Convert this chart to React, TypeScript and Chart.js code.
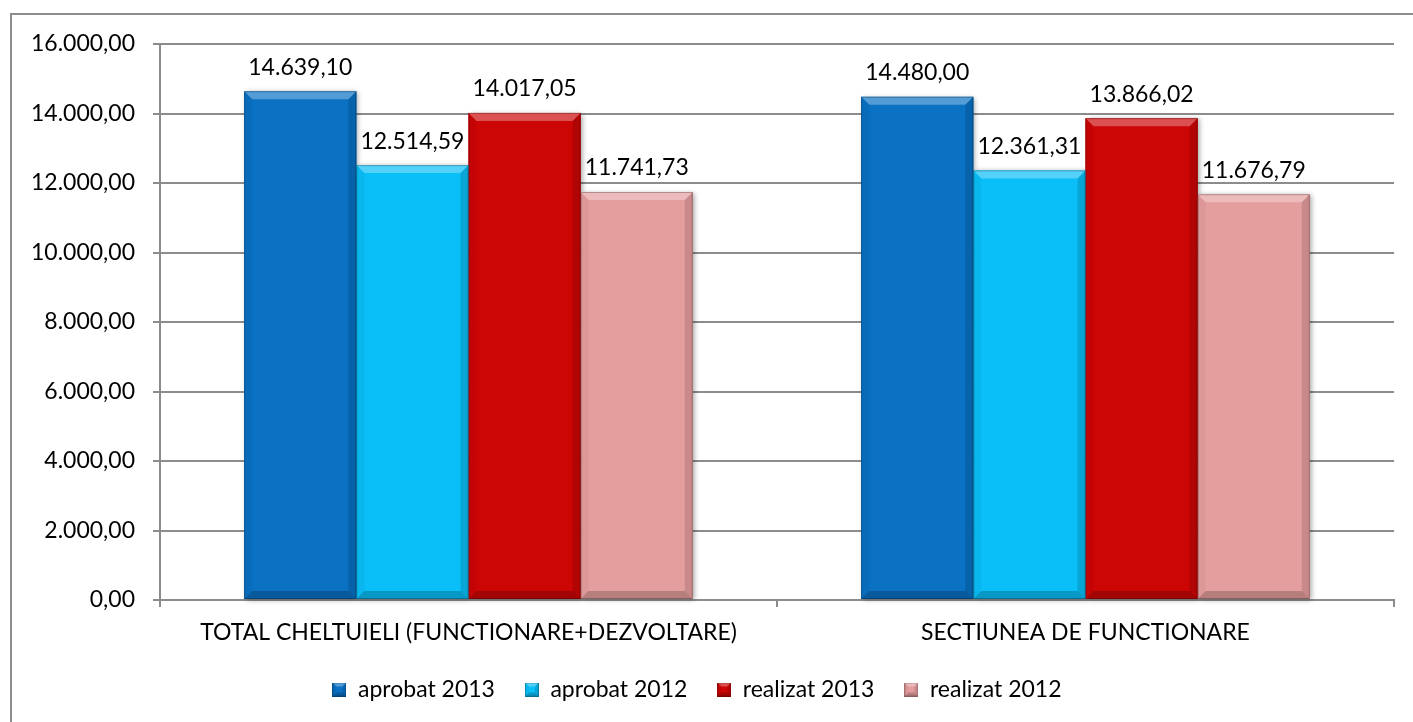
import React, { useEffect, useRef } from 'react';
import { Chart, registerables } from 'chart.js';
Chart.register(...registerables);

const categories = ['TOTAL CHELTUIELI (FUNCTIONARE+DEZVOLTARE)', 'SECTIUNEA DE FUNCTIONARE'];
const seriesNames = ['aprobat 2013', 'aprobat 2012', 'realizat 2013', 'realizat 2012'];
const aprobat2013 = [14639.10, 14480.00];
const aprobat2012 = [12514.59, 12361.31];
const realizat2013 = [14017.05, 13866.02];
const realizat2012 = [11741.73, 11676.79];
const seriesColors = ['#0A71C3', '#0ABEF7', '#CC0505', '#E59E9E'];
const yMin = 0;
const yMax = 16000;
const yStep = 2000;

const FONT = 'Lato';
const FONT_SIZE = 23;

function fmt(v: number): string {
  const [i, d] = v.toFixed(2).split('.');
  return i.replace(/\B(?=(\d{3})+(?!\d))/g, '.') + ',' + d;
}

function drawBevel(ctx: CanvasRenderingContext2D, l: number, t: number, r: number, b: number, s: number) {
  const poly = (pts: number[][], fill: string) => {
    ctx.beginPath();
    ctx.moveTo(pts[0][0], pts[0][1]);
    for (let k = 1; k < pts.length; k++) ctx.lineTo(pts[k][0], pts[k][1]);
    ctx.closePath();
    ctx.fillStyle = fill;
    ctx.fill();
  };
  poly([[l, t], [r, t], [r - s, t + s], [l + s, t + s]], 'rgba(255,255,255,0.30)');
  poly([[l, t], [l + s, t + s], [l + s, b - s], [l, b]], 'rgba(0,0,0,0.04)');
  poly([[r, t], [r - s, t + s], [r - s, b - s], [r, b]], 'rgba(0,0,0,0.13)');
  poly([[l, b], [l + s, b - s], [r - s, b - s], [r, b]], 'rgba(0,0,0,0.20)');
  ctx.strokeStyle = 'rgba(0,0,0,0.25)';
  ctx.lineWidth = 1;
  ctx.strokeRect(l + 0.5, t + 0.5, r - l - 1, b - t - 1);
}

function legendSwatch(color: string): HTMLCanvasElement {
  const c = document.createElement('canvas');
  c.width = 14;
  c.height = 14;
  const g = c.getContext('2d')!;
  g.fillStyle = color;
  g.fillRect(0, 0, 14, 14);
  drawBevel(g, 0, 0, 14, 14, 4);
  return c;
}

const pagePlugin = {
  id: 'pageDecor',
  beforeDraw(chart: any) {
    const ctx = chart.ctx;
    ctx.save();
    ctx.strokeStyle = '#8C8C8C';
    ctx.lineWidth = 2;
    ctx.beginPath();
    ctx.moveTo(11, chart.height);
    ctx.lineTo(11, 14);
    ctx.lineTo(chart.width, 14);
    ctx.stroke();
    ctx.restore();
  },
  beforeDatasetsDraw(chart: any) {
    const ctx = chart.ctx;
    ctx.save();
    chart.data.datasets.forEach((ds: any, i: number) => {
      const meta = chart.getDatasetMeta(i);
      meta.data.forEach((bar: any) => {
        const p = bar.getProps(['x', 'y', 'base', 'width'], true);
        ctx.shadowColor = 'rgba(0,0,0,0.35)';
        ctx.shadowBlur = 5;
        ctx.shadowOffsetX = 2;
        ctx.shadowOffsetY = 1;
        ctx.fillStyle = ds.backgroundColor;
        ctx.fillRect(p.x - p.width / 2, p.y, p.width, p.base - p.y);
      });
    });
    ctx.restore();
  },
  afterDatasetsDraw(chart: any) {
    const ctx = chart.ctx;
    ctx.save();
    chart.data.datasets.forEach((ds: any, i: number) => {
      const meta = chart.getDatasetMeta(i);
      meta.data.forEach((bar: any, j: number) => {
        const p = bar.getProps(['x', 'y', 'base', 'width'], true);
        const l = p.x - p.width / 2;
        const r = p.x + p.width / 2;
        drawBevel(ctx, l, p.y, r, p.base, 8);
        ctx.fillStyle = '#000';
        ctx.font = `${FONT_SIZE}px ${FONT}`;
        ctx.textAlign = 'center';
        ctx.textBaseline = 'middle';
        ctx.fillText(fmt(ds.data[j]), p.x, p.y - 24);
      });
    });
    ctx.restore();
  },
};

export default function App() {
  const ref = useRef<HTMLCanvasElement | null>(null);
  useEffect(() => {
    if (!ref.current) return;
    const seriesData = [aprobat2013, aprobat2012, realizat2013, realizat2012];
    const swatches = seriesColors.map(legendSwatch);
    const chart = new Chart(ref.current, {
      type: 'bar',
      data: {
        labels: categories,
        datasets: seriesNames.map((name, i) => ({
          label: name,
          data: seriesData[i],
          backgroundColor: seriesColors[i],
          borderWidth: 0,
          barPercentage: 1,
          categoryPercentage: 0.727,
        })),
      },
      options: {
        responsive: false,
        animation: false,
        maintainAspectRatio: false,
        layout: { padding: { top: 44, right: 19, left: 0, bottom: 11 } },
        font: { family: FONT, size: FONT_SIZE },
        plugins: {
          tooltip: { enabled: false },
          legend: {
            position: 'bottom',
            labels: {
              usePointStyle: true,
              boxWidth: 14,
              boxHeight: 14,
              padding: 30,
              color: '#000',
              font: { family: FONT, size: FONT_SIZE },
              generateLabels: (c: any) => {
                const items = Chart.defaults.plugins.legend.labels.generateLabels(c);
                items.forEach((it: any, k: number) => { it.pointStyle = swatches[k]; });
                return items;
              },
            },
          },
        },
        scales: {
          x: {
            afterFit: (s: any) => { s.height = 48; },
            grid: {
              display: true,
              drawOnChartArea: false,
              drawTicks: true,
              tickLength: 7,
              color: '#8C8C8C',
              lineWidth: 2,
              offset: true,
            },
            border: { display: true, color: '#8C8C8C', width: 2 },
            ticks: { color: '#000', padding: 12, font: { family: FONT, size: FONT_SIZE }, maxRotation: 0, autoSkip: false },
          },
          y: {
            min: yMin,
            max: yMax,
            afterFit: (s: any) => { s.width = 160; },
            grid: { color: '#8C8C8C', lineWidth: 2, tickLength: 7, drawTicks: true },
            border: { display: true, color: '#8C8C8C', width: 2 },
            ticks: {
              stepSize: yStep,
              color: '#000',
              padding: 18,
              font: { family: FONT, size: FONT_SIZE },
              callback: (v: any) => fmt(Number(v)),
            },
          },
        },
      },
      plugins: [pagePlugin],
    });
    return () => chart.destroy();
  }, []);
  return (
    <div style={{ position: 'absolute', left: 0, top: 0, width: 1413, height: 722, background: '#fff' }}>
      <canvas ref={ref} width={1413} height={722} style={{ display: 'block', width: 1413, height: 722 }} />
    </div>
  );
}
